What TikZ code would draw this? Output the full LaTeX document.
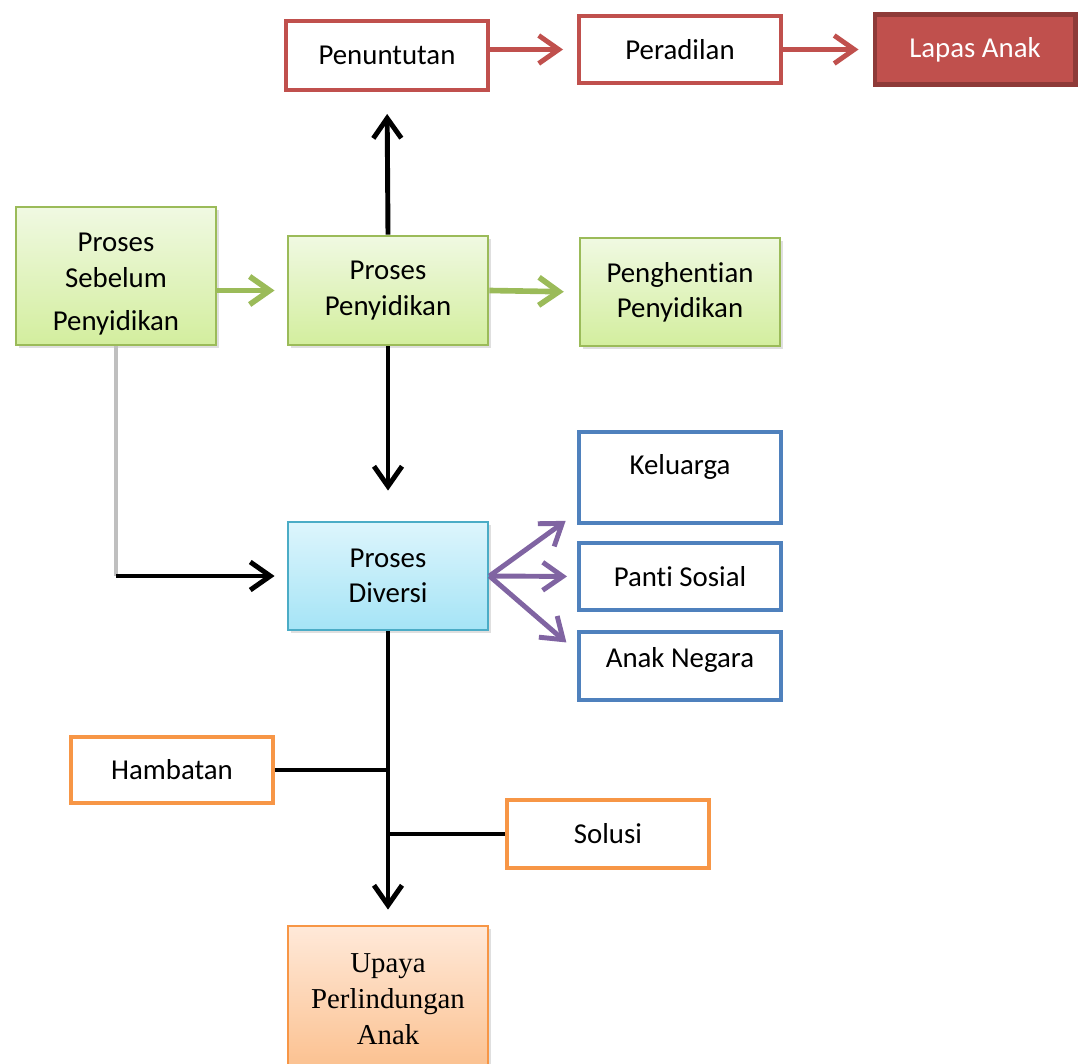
\documentclass[tikz,border=0pt]{standalone}
\usepackage{fontspec}
\setmainfont{Carlito}[Ligatures=NoCommon]
\newfontfamily\serifface{Liberation Serif}
\usepackage{xcolor}
\definecolor{cRed}{HTML}{C0504D}
\definecolor{cRedDark}{HTML}{8E3A38}
\definecolor{cGreen}{HTML}{9BBB59}
\definecolor{cGreenTop}{HTML}{F0F9E2}
\definecolor{cGreenBot}{HTML}{D3EE9E}
\definecolor{cBlue}{HTML}{4F81BD}
\definecolor{cCyan}{HTML}{4BACC6}
\definecolor{cCyanTop}{HTML}{DDF5FC}
\definecolor{cCyanBot}{HTML}{A5E4F6}
\definecolor{cOrange}{HTML}{F79646}
\definecolor{cPeachTop}{HTML}{FFE9D9}
\definecolor{cPeachBot}{HTML}{FBC08E}
\definecolor{cPurple}{HTML}{8064A2}
\definecolor{cGray}{HTML}{BFBFBF}
\usepackage{tikz}
\usetikzlibrary{positioning,arrows.meta,calc,shadows}
\tikzset{
  node-box/.style={draw,line width=2.8pt,minimum width=5.05cm,align=center,
    inner sep=2pt,font=\fontsize{20.5}{25}\selectfont},
  node-red/.style={draw=cRed,fill=white},
  node-blue/.style={draw=cBlue,fill=white},
  node-orange/.style={draw=cOrange,fill=white},
  node-final/.style={draw=cRedDark,line width=3.5pt,fill=cRed,text=white},
  node-shadow/.style={drop shadow={opacity=0.25,shadow xshift=2pt,shadow yshift=-2pt}},
  node-green/.style={draw=cGreen,line width=2pt,node-shadow,
    top color=cGreenTop,bottom color=cGreenBot},
  node-cyan/.style={draw=cCyan,line width=2pt,node-shadow,
    top color=cCyanTop,bottom color=cCyanBot},
  node-peach/.style={draw=cOrange,line width=2pt,node-shadow,
    top color=cPeachTop,bottom color=cPeachBot},
  arrow/.style={-{Straight Barb[length=5mm,width=7mm]},line width=3.5pt,draw=black},
  arrow-red/.style={arrow,draw=cRed},
  arrow-green/.style={arrow,draw=cGreen,line width=4pt},
  arrow-purple/.style={arrow,draw=cPurple},
  line-plain/.style={line width=3.5pt,draw=black},
  line-gray/.style={line width=3pt,draw=cGray},
}
\begin{document}
\begin{tikzpicture}[x=0.025cm,y=-0.025cm]
  \useasboundingbox (0,0) rectangle (1078,1064);
  \clip (0,0) rectangle (1078,1064);

  % upper row
  \node[node-box,node-red,minimum height=1.725cm] (pen) at (387,55.5) {Penuntutan};
  \node[node-box,node-red,minimum height=1.675cm] (per) at (680,49.5) {Peradilan};
  \node[node-box,node-final,minimum width=5.0cm,minimum height=1.75cm] (lps) at (975,49.5) {Lapas Anak};

  % penyidikan row
  \node[node-box,node-green,minimum width=5.0cm,minimum height=3.45cm,text height=2.85cm] (seb) at (116,276)
    {Proses\\Sebelum\\[6pt]Penyidikan};
  \node[node-box,node-green,minimum width=5.0cm,minimum height=2.725cm] (pyd) at (388,290.5)
    {Proses\\Penyidikan};
  \node[node-box,node-green,minimum width=5.0cm,minimum height=2.7cm] (phn) at (680,292)
    {Penghentian\\Penyidikan};

  % diversi
  \node[node-box,node-cyan,minimum width=5.0cm,minimum height=2.7cm] (div) at (388,576)
    {Proses\\Diversi};
  \node[node-box,node-blue,minimum height=2.275cm,text depth=0.65cm] (kel) at (680,477.5) {Keluarga};
  \node[node-box,node-blue,minimum height=1.675cm] (pnt) at (680,576.5) {Panti Sosial};
  \node[node-box,node-blue,minimum height=1.7cm,text depth=0.45cm] (ang) at (680,666) {Anak Negara};

  % hambatan, solusi, hasil
  \node[node-box,node-orange,minimum height=1.65cm] (ham) at (172,770) {Hambatan};
  \node[node-box,node-orange,minimum height=1.7cm] (sol) at (608,834) {Solusi};
  \node[node-box,node-peach,minimum width=5.0cm,minimum height=3.65cm,
    font=\serifface\fontsize{20.5}{25.5}\selectfont] (upa) at (388,999)
    {Upaya\\Perlindungan\\Anak};

  % connectors
  \draw[arrow-red,shorten >=0.35cm] (pen.east |- per.west) -- (per.west);
  \draw[arrow-red,shorten >=0.35cm] (per.east) -- (lps.west);
  \draw[arrow,shorten >=0.55cm] (pyd.north) -- (pen.south);
  \draw[arrow-green,shorten >=0.3cm] (seb.east |- pyd.west) -- (pyd.west);
  \draw[arrow-green,shorten >=0.37cm] (pyd.east) -- (phn.west);
  \draw[arrow,shorten >=0.75cm] (pyd.south) -- (div.north);
  \draw[line-gray] (seb.south) -- (seb.south |- div.west);
  \draw[arrow,shorten >=0.3cm] (seb.south |- div.west) -- (div.west);
  \draw[arrow-purple,shorten >=0.35cm] (div.east) -- ($(kel.south west)!0.13!(kel.north west)$);
  \draw[arrow-purple,shorten >=0.25cm] (div.east) -- (pnt.west);
  \draw[arrow-purple,shorten >=0.35cm] (div.east) -- ($(ang.north west)!0.3!(ang.south west)$);
  \draw[arrow,shorten >=0.375cm] (div.south) -- (upa.north);
  \draw[line-plain] (ham.east) -- (ham.east -| div.south);
  \draw[line-plain] (sol.west) -- (sol.west -| div.south);
\end{tikzpicture}
\end{document}
